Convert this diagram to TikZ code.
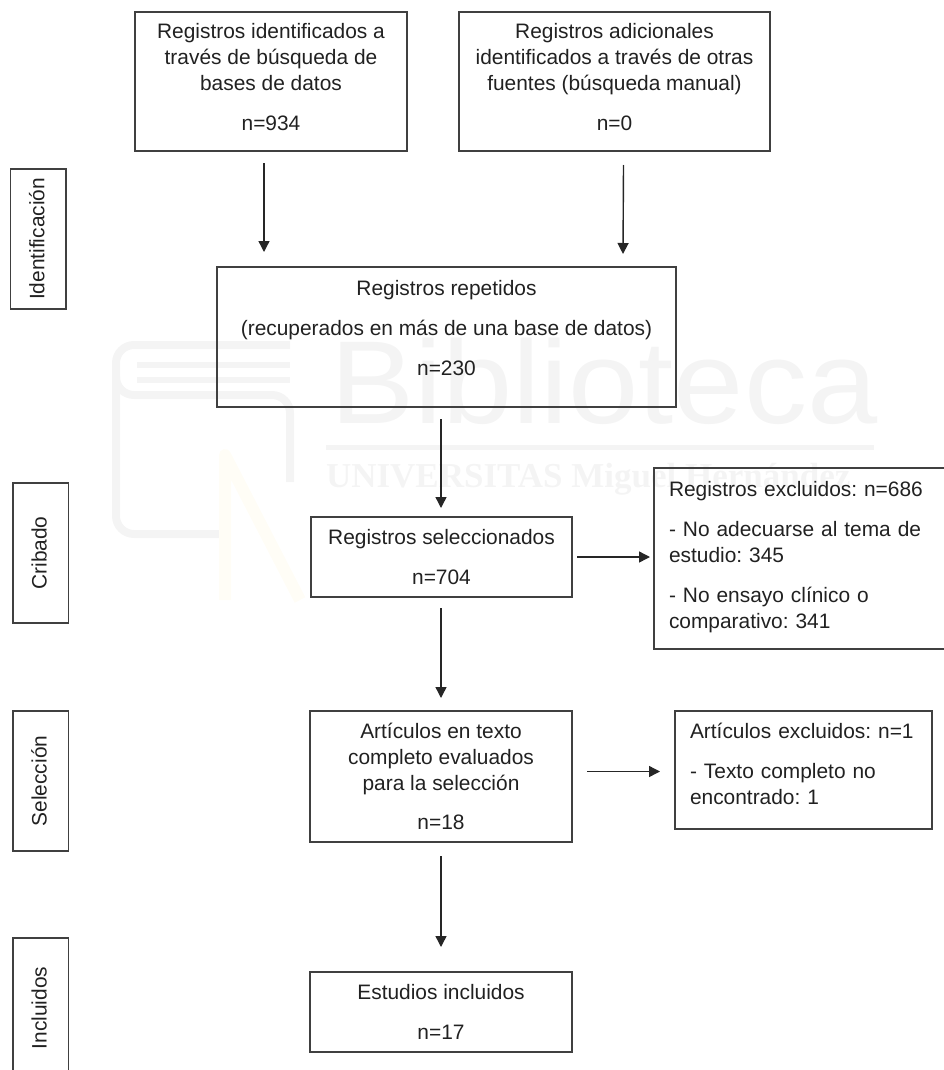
\documentclass[tikz,border=0pt]{standalone}
\usepackage{fontspec}
\setmainfont{Liberation Sans}
\newfontfamily\wmserif{Liberation Serif}
\usetikzlibrary{arrows.meta}
\definecolor{ln}{gray}{0.25}
\definecolor{tx}{gray}{0.13}
\definecolor{wm}{gray}{0.955}
\definecolor{wmy}{rgb}{1,0.992,0.965}
\newcommand{\tp}[1]{\rule{0pt}{#1pt}}
\newcommand{\bt}[1]{\rule[-#1pt]{0pt}{#1pt}}
\tikzset{
  x=1pt,y=-1pt,
  every node/.style={inner sep=0pt,outer sep=0pt,text=tx,font=\fontsize{20.9}{26}\selectfont\frenchspacing},
  boxn/.style={draw=ln,line width=1.5pt,anchor=north west,align=center},
  leftbox/.style={boxn,align=left,text width=#1,inner xsep=15pt},
  sidebox/.style={draw=ln,line width=1.5pt,rotate=90,minimum width=140,text height=33.8pt,text depth=21.7pt},
  arr/.style={draw=black!85,line width=1.4pt,-{Triangle[length=11pt,width=11pt]}},
  wmark/.style={text=wm,anchor=base west}
}
\begin{document}
\begin{tikzpicture}
\useasboundingbox (0,0) rectangle (944,1070);
% watermark
\draw[wm,line width=8pt,rounded corners=18pt] (290,345) -- (116,345) -- (116,534) -- (222,534);
\draw[wm,line width=6pt,rounded corners=8pt] (137,365) -- (290,365);
\draw[wm,line width=6pt] (137,380) -- (290,380);
\draw[wm,line width=8pt,rounded corners=18pt] (116,380) -- (116,395) -- (290,395) -- (290,482);
\draw[wmy,line width=12pt,line join=round] (225,600) -- (225,455) -- (300,600);
\node[wmark,font=\fontsize{118}{118}\selectfont,xscale=1.07,transform shape] (wm1) at (330,423) {Biblioteca};
\draw[wm,line width=5pt] (326,447) -- (874,447);
\node[wmark,font=\wmserif\bfseries\fontsize{35}{35}\selectfont] (wm2) at (326,487) {UNIVERSITAS Miguel Hernández};
% main boxes
\node[boxn,minimum width=272] (a) at (135,12) {\tp{27}Registros identificados a\\través de búsqueda de\\bases de datos\\[14pt]n=934\bt{20}};
\node[boxn,minimum width=311] (b) at (459,12) {\tp{27}Registros adicionales\\identificados a través de otras\\fuentes (búsqueda manual)\\[14pt]n=0\bt{20}};
\node[boxn,minimum width=459] (c) at (217,267) {\tp{28}Registros repetidos\\[14pt](recuperados en más de una base de datos)\\[14pt]n=230\bt{32}};
\node[boxn,minimum width=261] (d) at (311,517) {\tp{27}Registros seleccionados\\[14pt]n=704\bt{13}};
\node[leftbox=262pt] (e) at (654,468) {\tp{28}Registros excluidos: n=686\\[14pt]- No adecuarse al tema de\\estudio: 345\\[14pt]- No ensayo clínico o\\comparativo: 341\bt{21}};
\node[boxn,minimum width=262] (f) at (310,711) {\tp{27}Artículos en texto\\completo evaluados\\para la selección\\[13pt]n=18\bt{13}};
\node[leftbox=227pt] (g) at (675,711) {\tp{27}Artículos excluidos: n=1\\[14pt]- Texto completo no\\encontrado: 1\bt{25}};
\node[boxn,minimum width=262] (h) at (310,972) {\tp{27}Estudios incluidos\\[14pt]n=17\bt{13}};
% side boxes
\node[sidebox] (s1) at (38.2,239) {Identificación};
\node[sidebox] (s2) at (40.5,553) {Cribado};
\node[sidebox] (s3) at (40.5,781) {Selección};
\node[sidebox] (s4) at (40.5,1008) {Incluidos};
% arrows
\draw[arr] ([xshift=-7,yshift=-12]a.south) -- ([xshift=-182.5,yshift=15]c.north);
\draw[arr] ([xshift=9,yshift=-14]b.south) -- ([xshift=176.5,yshift=13]c.north);
\draw[arr] ([xshift=-5.5,yshift=-12]c.south) -- ([xshift=-.5,yshift=9]d.north);
\draw[arr] ([xshift=-.5,yshift=-11]d.south) -- ([xshift=0,yshift=13]f.north);
\draw[arr] ([xshift=0,yshift=-14]f.south) -- ([xshift=0,yshift=25]h.north);
\draw[arr] ([xshift=5]d.east) -- ([xshift=-4]d.east -| e.west);
\draw[arr] ([xshift=15,yshift=5]f.east) -- ([xshift=-15,yshift=5]f.east -| g.west);
\end{tikzpicture}
\end{document}
